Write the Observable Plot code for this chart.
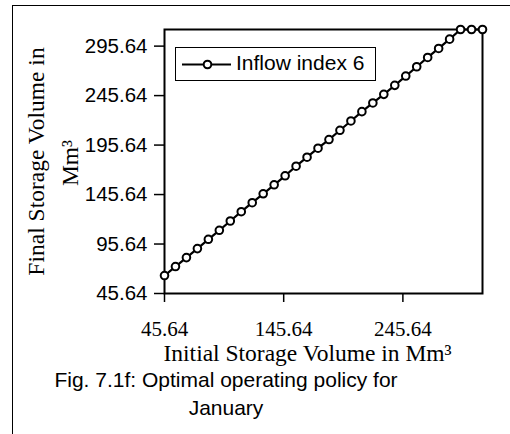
<!DOCTYPE html>
<html><head><meta charset="utf-8">
<script src="https://cdn.jsdelivr.net/npm/d3@7"></script>
<script src="https://cdn.jsdelivr.net/npm/@observablehq/plot@0.6"></script>
<style>
body{margin:0;background:#fff;}
#wrap{position:relative;width:510px;height:434px;overflow:hidden;background:#fff;}
#border{position:absolute;left:12px;top:5px;width:600px;height:600px;border-left:1.5px solid #000;border-top:1.5px solid #000;}
#chart{position:absolute;left:0;top:0;}
#legend{position:absolute;left:175px;top:47px;width:199px;height:32px;border:1px solid #000;background:#fff;}
#legend svg{position:absolute;left:0;top:0;}
#legend span{position:absolute;left:60px;top:3px;font:21px "Liberation Sans",Arial,sans-serif;line-height:24px;white-space:nowrap;}
#caption{position:absolute;left:26px;width:400px;top:366px;text-align:center;font:21px "Liberation Sans",Arial,sans-serif;line-height:28px;}
</style>
</head><body>
<div id="wrap">
<div id="border"></div>
<div id="chart"></div>
<div id="legend"><svg width="199" height="32"><line x1="6" x2="55" y1="16.5" y2="16.5" stroke="#000" stroke-width="2.2"/><circle cx="31.5" cy="16.5" r="3.8" fill="#fff" stroke="#000" stroke-width="2"/></svg><span>Inflow index 6</span></div>
<div id="caption">Fig. 7.1f: Optimal operating policy for<br>January</div>
</div>
<script>
const seriesName = "Inflow index 6";
const initialStorage = [45.64, 54.84, 64.04, 73.24, 82.44, 91.64, 100.84, 110.04, 119.24, 128.44, 137.64, 146.84, 156.04, 165.24, 174.44, 183.64, 192.84, 202.04, 211.24, 220.44, 229.64, 238.84, 248.04, 257.24, 266.44, 275.64, 284.84, 294.04, 303.24, 312.44];
const finalStorage = [63.8, 72.9, 81.9, 91.0, 100.4, 109.5, 118.9, 128.3, 137.4, 146.4, 155.5, 164.6, 174.3, 183.4, 192.5, 201.2, 210.6, 220.0, 229.4, 238.2, 246.9, 256.0, 265.4, 274.8, 284.2, 293.3, 302.7, 312.44, 312.44, 312.44];
const xTicks = [45.64, 145.64, 245.64];
const yTicks = [45.64, 95.64, 145.64, 195.64, 245.64, 295.64];
const xTitle = "Initial Storage Volume in Mm³";
const yTitle1 = "Final Storage Volume in";
const yTitle2 = "Mm³";

const data = initialStorage.map((v, i) => ({initial: v, final: finalStorage[i]}));
const serif = "'Liberation Serif', 'Times New Roman', serif";
const sans = "'Liberation Sans', Arial, sans-serif";
const fmt = d => d.toFixed(2);

const chart = Plot.plot({
  width: 510, height: 372,
  marginLeft: 164, marginRight: 28, marginTop: 29, marginBottom: 79,
  x: {domain: [45.64, 312.44]},
  y: {domain: [45.64, 312.44]},
  style: {background: "transparent", color: "#000", overflow: "visible"},
  marks: [
    Plot.axisX(xTicks, {tickSize: 9, tickPadding: 19, tickFormat: fmt, strokeWidth: 1.5, label: null, fontFamily: serif, fontSize: 21}),
    Plot.axisY(yTicks, {tickSize: 10, tickPadding: 7, tickFormat: fmt, strokeWidth: 1.5, label: null, fontFamily: sans, fontSize: 20.5}),
    Plot.frame({stroke: "#000", strokeWidth: 2}),
    Plot.line(data, {x: "initial", y: "final", stroke: "#000", strokeWidth: 2.2}),
    Plot.dot(data, {x: "initial", y: "final", r: 3.8, stroke: "#000", strokeWidth: 2, fill: "#fff"}),
    Plot.text([xTitle], {text: d => d, frameAnchor: "bottom-left", textAnchor: "start", lineAnchor: "bottom", dx: -1, dy: 67, fontFamily: serif, fontSize: 23.5, fill: "#000"}),
    Plot.text([yTitle1], {text: d => d, frameAnchor: "left", textAnchor: "middle", lineAnchor: "bottom", rotate: -90, dx: -121, dy: 0, fontFamily: serif, fontSize: 23.5, fill: "#000"}),
    Plot.text([yTitle2], {text: d => d, frameAnchor: "left", textAnchor: "middle", lineAnchor: "bottom", rotate: -90, dx: -87, dy: 1.5, fontFamily: serif, fontSize: 23.5, fill: "#000"})
  ]
});
document.getElementById("chart").appendChild(chart);
</script>
</body></html>
